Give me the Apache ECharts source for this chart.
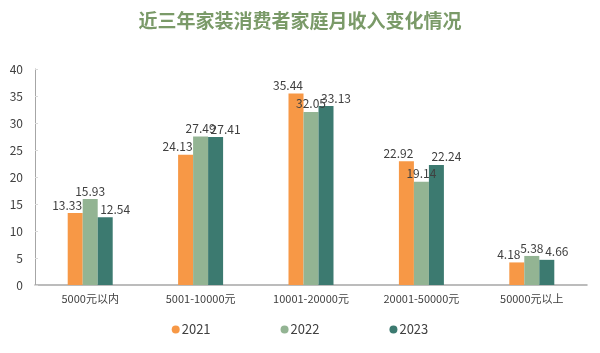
<!DOCTYPE html>
<html>
<head>
<meta charset="utf-8">
<script src="https://cdn.jsdelivr.net/npm/echarts@6/dist/echarts.min.js"></script>
<style>
  html, body { margin: 0; padding: 0; background: #fff; }
  #chart { width: 600px; height: 353px; }
</style>
</head>
<body>
<div id="chart"></div>
<script>
// 数据
const categories = ['5000元以内', '5001-10000元', '10001-20000元', '20001-50000元', '50000元以上']
const years = ['2021', '2022', '2023']
const values2021 = [13.33, 24.13, 35.44, 22.92, 4.18]
const values2022 = [15.93, 27.49, 32.05, 19.14, 5.38]
const values2023 = [12.54, 27.41, 33.13, 22.24, 4.66]
const colors = ['#F79846', '#93B493', '#3C7A70']

const chart = echarts.init(document.getElementById('chart'))
const font = '"Noto Sans CJK SC", "Noto Sans", sans-serif'

function makeSeries(name, data, color, offset) {
  return {
    name: name,
    type: 'bar',
    data: data,
    barWidth: 15,
    barGap: '0%',
    itemStyle: { color: color },
    label: {
      show: true,
      position: 'top',
      offset: offset,
      distance: 2,
      color: '#404040',
      fontSize: 12,
      fontFamily: font
    }
  }
}

const option = {
  title: {
    text: '近三年家装消费者家庭月收入变化情况',
    left: 'center',
    top: 6,
    textStyle: { color: '#7A9A68', fontSize: 19, fontWeight: 'bold', fontFamily: font }
  },
  legend: {
    bottom: 12,
    left: 'center',
    itemGap: 70,
    itemWidth: 8,
    itemHeight: 8,
    icon: 'circle',
    textStyle: { color: '#404040', fontSize: 13, fontFamily: font, padding: [0, 0, 0, -3] },
    data: years
  },
  grid: { left: 35, right: 13, top: 69, bottom: 68 },
  xAxis: {
    type: 'category',
    data: categories,
    axisLine: { lineStyle: { color: '#A6A6A6', width: 1.5 } },
    axisTick: { show: false },
    axisLabel: { color: '#404040', fontSize: 11, fontFamily: font, margin: 8 }
  },
  yAxis: {
    type: 'value',
    min: 0,
    max: 40,
    interval: 5,
    axisLine: { show: true, lineStyle: { color: '#A6A6A6' } },
    axisTick: { show: true, inside: true, length: 3, lineStyle: { color: '#D9D9D9' } },
    splitLine: { show: false },
    axisLabel: { color: '#404040', fontSize: 12, fontFamily: font, margin: 12 }
  },
  series: [
    makeSeries(years[0], values2021, colors[0], [-8, 0]),
    makeSeries(years[1], values2022, colors[1], [0, 0]),
    makeSeries(years[2], values2023, colors[2], [10, 0])
  ]
}
chart.setOption(option)
</script>
</body>
</html>
